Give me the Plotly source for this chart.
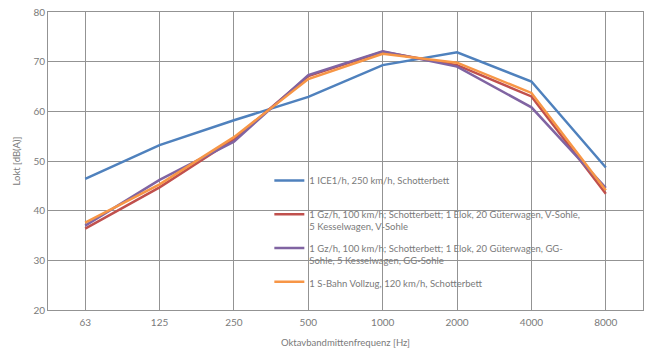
import plotly.graph_objects as go

categories = ["63", "125", "250", "500", "1000", "2000", "4000", "8000"]
ice = [46.4, 53.2, 58.2, 62.9, 69.3, 71.9, 66.0, 48.7]
gz_v = [36.4, 44.7, 54.4, 67.1, 72.0, 69.3, 63.0, 43.4]
gz_gg = [37.0, 46.2, 53.9, 67.3, 72.1, 69.0, 60.8, 44.6]
sbahn = [37.6, 45.3, 54.8, 66.5, 71.6, 69.8, 63.7, 44.1]

names = [
    "1 ICE1/h, 250 km/h, Schotterbett<br> ",
    "1 Gz/h, 100 km/h; Schotterbett; 1 Elok, 20 Güterwagen, V-Sohle,<br>5 Kesselwagen, V-Sohle",
    "1 Gz/h, 100 km/h; Schotterbett; 1 Elok, 20 Güterwagen, GG-<br>Sohle, 5 Kesselwagen, GG-Sohle",
    "1 S-Bahn Vollzug, 120 km/h, Schotterbett",
]
colors = ["#4F81BD", "#C0504D", "#8064A2", "#F79646"]
series = [ice, gz_v, gz_gg, sbahn]

fig = go.Figure()
for i, (n, c, s) in enumerate(zip(names, colors, series)):
    fig.add_trace(go.Scatter(x=categories, y=s, name=n, mode="lines",
                             legendgroup=f"g{i}",
                             line=dict(color=c, width=2.5)))

grid = "#939393"
txt = "#7a7a7a"
tickfont = dict(family="Lato", size=10, color=txt)
fig.update_layout(
    width=648, height=349,
    margin=dict(l=48, r=5, t=12, b=39),
    paper_bgcolor="white", plot_bgcolor="white",
    font=dict(family="Lato", size=10, color=txt),
    showlegend=True,
    legend=dict(x=0.372, y=0.477, xanchor="left", yanchor="top",
                bgcolor="rgba(0,0,0,0)", valign="top",
                font=dict(family="Lato", size=9.5, color=txt),
                tracegroupgap=6, itemwidth=30, traceorder="grouped"),
    xaxis=dict(type="category", range=[-0.5, 7.5], showgrid=True, gridcolor=grid,
               gridwidth=1, showline=True, linecolor=grid, mirror=True, automargin=False,
               ticks="outside", ticklen=3, tickcolor="rgba(0,0,0,0)", tickfont=tickfont,
               title=dict(text="Oktavbandmittenfrequenz [Hz]", font=dict(size=9.5, color=txt), standoff=12)),
    yaxis=dict(range=[20, 80], dtick=10, showgrid=True, gridcolor=grid, gridwidth=1,
               showline=True, linecolor=grid, mirror=True, zeroline=False, automargin=False,
               ticks="", tickfont=tickfont,
               title=dict(text="Lokt [dB(A)]", font=dict(size=9.5, color=txt), standoff=11)),
)
fig.write_html("out.html")
